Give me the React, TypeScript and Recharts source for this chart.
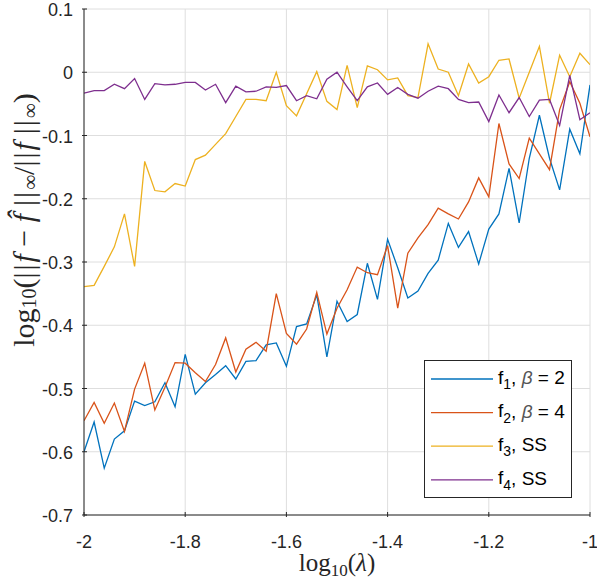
import React from "react";
import { LineChart, Line, XAxis, YAxis, CartesianGrid } from "recharts";

// log10(lambda) sample points
const LOG_LAMBDA = [
  -2, -1.98, -1.96, -1.94, -1.92, -1.9, -1.88, -1.86, -1.84, -1.82,
  -1.8, -1.78, -1.76, -1.74, -1.72, -1.7, -1.68, -1.66, -1.64, -1.62,
  -1.6, -1.58, -1.56, -1.54, -1.52, -1.5, -1.48, -1.46, -1.44, -1.42,
  -1.4, -1.38, -1.36, -1.34, -1.32, -1.3, -1.28, -1.26, -1.24, -1.22,
  -1.2, -1.18, -1.16, -1.14, -1.12, -1.1, -1.08, -1.06, -1.04, -1.02,
  -1,
];

// f1, beta = 2
const F1 = [
  -0.6, -0.553, -0.626, -0.58, -0.567, -0.52, -0.527, -0.521, -0.491, -0.529,
  -0.446, -0.509, -0.491, -0.478, -0.464, -0.485, -0.457, -0.456, -0.431, -0.428,
  -0.465, -0.402, -0.398, -0.352, -0.45, -0.362, -0.394, -0.383, -0.302, -0.359,
  -0.264, -0.309, -0.357, -0.346, -0.318, -0.297, -0.239, -0.277, -0.252, -0.303,
  -0.248, -0.224, -0.152, -0.238, -0.136, -0.068, -0.136, -0.186, -0.09, -0.129,
  -0.02,
];

// f2, beta = 4
const F2 = [
  -0.551, -0.522, -0.555, -0.523, -0.568, -0.501, -0.46, -0.534, -0.498, -0.459,
  -0.46, -0.475, -0.489, -0.462, -0.42, -0.474, -0.438, -0.427, -0.441, -0.35,
  -0.413, -0.43, -0.406, -0.348, -0.414, -0.373, -0.344, -0.308, -0.317, -0.32,
  -0.274, -0.373, -0.286, -0.262, -0.241, -0.215, -0.224, -0.232, -0.205, -0.167,
  -0.197, -0.081, -0.145, -0.168, -0.104, -0.129, -0.154, -0.059, -0.015, -0.049,
  -0.102,
];

// f3, SS
const F3 = [
  -0.339, -0.337, -0.307, -0.276, -0.224, -0.307, -0.141, -0.187, -0.189, -0.176,
  -0.18, -0.138, -0.131, -0.114, -0.097, -0.07, -0.043, -0.043, -0.045, 0.0,
  -0.053, -0.069, -0.034, 0.001, -0.046, -0.059, 0.011, -0.056, 0.01, 0.004,
  -0.012, -0.009, -0.037, -0.04, 0.045, 0.005, 0.0, -0.037, 0.013, -0.017,
  -0.007, 0.019, 0.021, -0.041, 0.0, 0.041, -0.049, 0.027, -0.007, 0.03,
  0.012,
];

// f4, SS
const F4 = [
  -0.033, -0.029, -0.029, -0.019, -0.026, -0.01, -0.043, -0.018, -0.02, -0.019,
  -0.016, -0.016, -0.028, -0.019, -0.048, -0.022, -0.031, -0.03, -0.023, -0.024,
  -0.021, -0.045, -0.037, -0.042, -0.011, 0.0, -0.023, -0.045, -0.023, -0.017,
  -0.035, -0.024, -0.035, -0.041, -0.03, -0.022, -0.026, -0.043, -0.048, -0.047,
  -0.078, -0.036, -0.064, -0.04, -0.07, -0.044, -0.043, -0.084, -0.005, -0.075,
  -0.064,
];

const X_TICKS = [-2, -1.8, -1.6, -1.4, -1.2, -1];
const Y_TICKS = [-0.7, -0.6, -0.5, -0.4, -0.3, -0.2, -0.1, 0, 0.1];

const SERIES = [
  { key: "f1", color: "#0072BD", sub: "1", beta: "2" },
  { key: "f2", color: "#D95319", sub: "2", beta: "4" },
  { key: "f3", color: "#EDB120", sub: "3", beta: null },
  { key: "f4", color: "#7E2F8E", sub: "4", beta: null },
];

const data = LOG_LAMBDA.map((x, i) => ({ x, f1: F1[i], f2: F2[i], f3: F3[i], f4: F4[i] }));

const AXIS = "#262626";
const TICK_FONT = "'Liberation Sans', Arial, sans-serif";
const MATH_FONT = "'Liberation Serif', 'Times New Roman', serif";
const TICK_LEN = 5;
const NB = "\u00a0";
const THIN = "\u2009";

// MATLAB-style ticks: marks point inward, labels outside.
const BottomTick = (p: any) => (
  <g>
    <line x1={p.x} x2={p.x} y1={p.y} y2={p.y - TICK_LEN} stroke={AXIS} />
    <text x={p.x} y={p.y + 25} textAnchor="middle" dominantBaseline="central" fill={AXIS} fontSize={18} fontFamily={TICK_FONT}>
      {String(p.payload.value)}
    </text>
  </g>
);
const TopTick = (p: any) => <line x1={p.x} x2={p.x} y1={p.y} y2={p.y + TICK_LEN} stroke={AXIS} />;
const LeftTick = (p: any) => (
  <g>
    <line x1={p.x} x2={p.x + TICK_LEN} y1={p.y} y2={p.y} stroke={AXIS} />
    <text x={p.x - 9} y={p.y + 1} textAnchor="end" dominantBaseline="central" fill={AXIS} fontSize={18} fontFamily={TICK_FONT}>
      {String(p.payload.value)}
    </text>
  </g>
);
const RightTick = (p: any) => <line x1={p.x} x2={p.x - TICK_LEN} y1={p.y} y2={p.y} stroke={AXIS} />;

const XLabel = (p: any) => {
  const vb = p.viewBox || { x: 84, y: 515, width: 506 };
  return (
    <text x={vb.x + vb.width / 2} y={vb.y + 56} textAnchor="middle" fill={AXIS} fontSize={25} fontFamily={MATH_FONT}>
      log<tspan fontSize={17} dy={5}>10</tspan>
      <tspan dy={-5}>(</tspan>
      <tspan fontStyle="italic">λ</tspan>)
    </text>
  );
};

// Rotated y title; sits a bit above the axes centre like the original.
const YLabel = (p: any) => {
  const vb = p.viewBox || { x: 0, y: 9, width: 84, height: 506 };
  const cx = 23;
  const cy = vb.y + vb.height / 2 - 42;
  return (
    <text x={cx} y={cy} transform={`rotate(-90 ${cx} ${cy})`} textAnchor="middle" dominantBaseline="central" fill={AXIS} fontSize={30} fontFamily={MATH_FONT}>
      log<tspan fontSize={20} dy={6}>10</tspan>
      <tspan dy={-6}>(</tspan>
      <tspan letterSpacing={2}>||</tspan>
      <tspan fontStyle="italic">f</tspan>
      <tspan>{NB + "−" + NB}</tspan>
      <tspan fontStyle="italic">f̂</tspan>
      <tspan letterSpacing={2}>{THIN + "||"}</tspan>
      <tspan fontSize={21} dy={7}>∞</tspan>
      <tspan dy={-7}>/</tspan>
      <tspan letterSpacing={2}>||</tspan>
      <tspan fontStyle="italic">f</tspan>
      <tspan letterSpacing={2}>{THIN + "||"}</tspan>
      <tspan fontSize={21} dy={7}>∞</tspan>
      <tspan dy={-7}>)</tspan>
    </text>
  );
};

// Legend box drawn as an SVG overlay in the lower-right corner of the axes.
const LegendBox = () => (
  <svg width={149} height={140} style={{ position: "absolute", left: 424, top: 360 }}>
    <rect x={0.5} y={0.5} width={147} height={137} fill="#fff" stroke={AXIS} />
    {SERIES.map((s, i) => {
      const cy = 19 + i * 33.6;
      return (
        <g key={s.key}>
          <line x1={7} x2={69} y1={cy} y2={cy} stroke={s.color} strokeWidth={1.3} />
          <text x={74} y={cy - 2} fontSize={19} fontFamily={TICK_FONT} fill="#000" dominantBaseline="central">
            f<tspan fontSize={14} dy={7}>{s.sub}</tspan>
            <tspan dy={-7}>, </tspan>
            {s.beta ? (
              <>
                <tspan fontStyle="italic" fill="#555">β</tspan>
                <tspan> = {s.beta}</tspan>
              </>
            ) : (
              <tspan>SS</tspan>
            )}
          </text>
        </g>
      );
    })}
  </svg>
);

export default function App() {
  return (
    <div style={{ position: "absolute", left: 0, top: 0, width: 597, height: 580, background: "#fff" }}>
      <LineChart width={597} height={580} data={data} margin={{ top: 9, right: 7, bottom: 0, left: 0 }}>
        <CartesianGrid stroke="#dedede" strokeWidth={1} />
        <XAxis
          dataKey="x"
          type="number"
          domain={[-2, -1]}
          ticks={X_TICKS}
          height={65}
          tickSize={0}
          tickLine={false}
          axisLine={{ stroke: AXIS }}
          tick={<BottomTick />}
          label={{ content: (p: any) => <XLabel {...p} /> }}
          allowDataOverflow
        />
        <XAxis
          xAxisId="top"
          orientation="top"
          dataKey="x"
          type="number"
          domain={[-2, -1]}
          ticks={X_TICKS}
          height={0}
          tickSize={0}
          tickLine={false}
          axisLine={{ stroke: AXIS }}
          tick={<TopTick />}
        />
        <YAxis
          type="number"
          domain={[-0.7, 0.1]}
          ticks={Y_TICKS}
          width={84}
          tickSize={0}
          tickLine={false}
          axisLine={{ stroke: AXIS }}
          tick={<LeftTick />}
          label={{ content: (p: any) => <YLabel {...p} /> }}
          allowDataOverflow
        />
        <YAxis
          yAxisId="right"
          orientation="right"
          type="number"
          domain={[-0.7, 0.1]}
          ticks={Y_TICKS}
          width={0}
          tickSize={0}
          tickLine={false}
          axisLine={{ stroke: AXIS }}
          tick={<RightTick />}
        />
        {SERIES.map((s) => (
          <Line key={s.key} type="linear" dataKey={s.key} stroke={s.color} strokeWidth={1.3} dot={false} isAnimationActive={false} />
        ))}
      </LineChart>
      <LegendBox />
    </div>
  );
}
